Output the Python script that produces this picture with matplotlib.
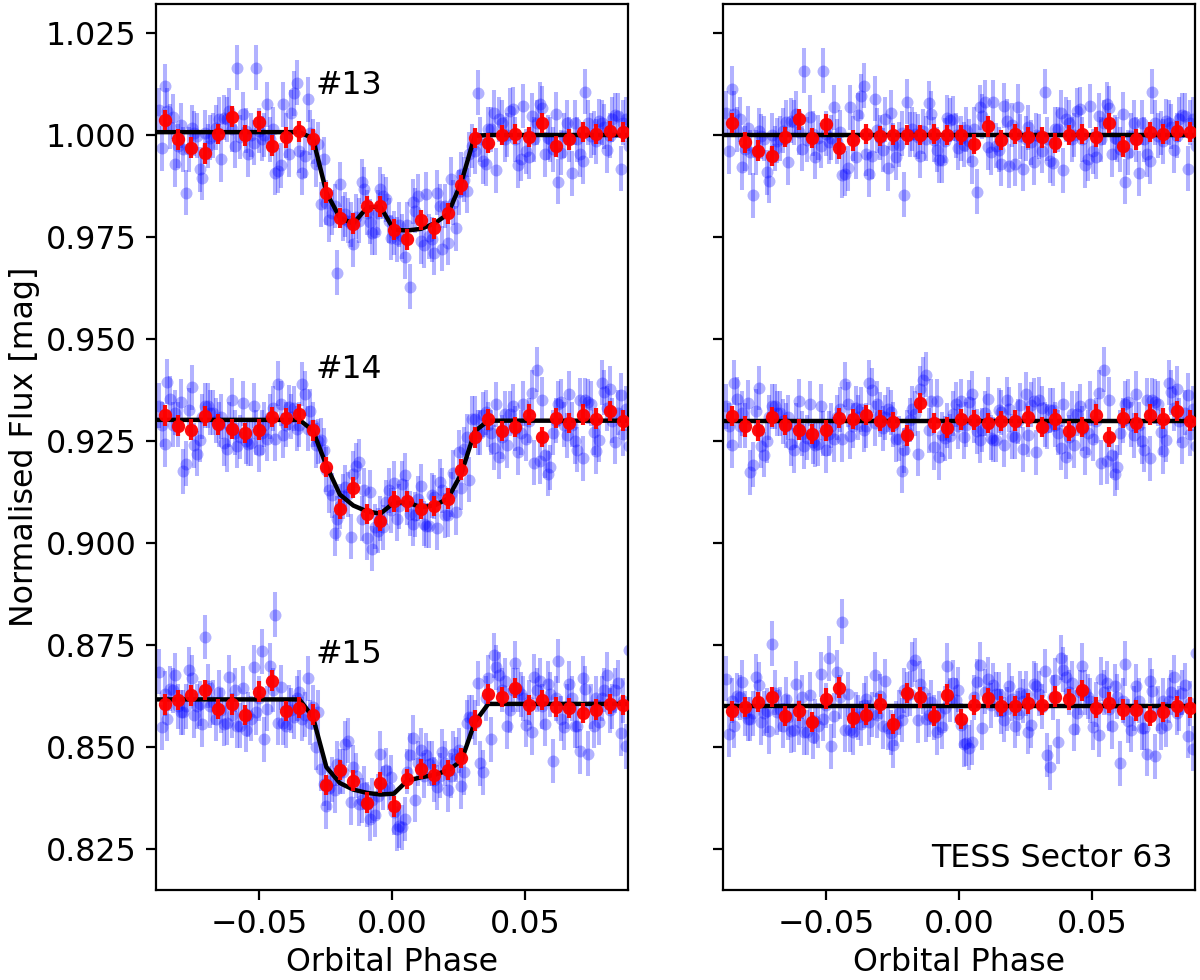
import numpy as np
import matplotlib
matplotlib.use("Agg")
import matplotlib.pyplot as plt

# Binned phases: 35 bins, each holding 5 unbinned points
bin_phase = np.array([-0.0855 + 0.00507 * k for k in range(35)])
raw_phase = np.array([-0.0875 + 0.001014 * k for k in range(175)])

red_13 = [1.0037,.9989,.9969,.9955,1.0002,1.0045,.9999,1.0033,.9974,.9994,1.0009,.9989,.9859,.9797,.9783,.9825,.9825,.9768,
          .9744,.9791,.9771,.9808,.9878,.9992,.9981,1.0000,1.0002,.9995,1.0030,.9972,.9989,1.0007,1.0002,1.0010,1.0007]
red_14 = [.9313,.9288,.9278,.9311,.9291,.9280,.9270,.9278,.9309,.9306,.9316,.9276,.9187,.9083,.9136,.9072,.9055,.9102,
          .9102,.9083,.9091,.9109,.9180,.9259,.9303,.9274,.9285,.9315,.9260,.9306,.9295,.9315,.9305,.9323,.9300]
red_15 = [.8605,.8616,.8627,.8640,.8593,.8605,.8579,.8636,.8663,.8588,.8597,.8580,.8408,.8444,.8418,.8364,.8413,.8355,
          .8422,.8446,.8433,.8444,.8473,.8565,.8630,.8623,.8645,.8603,.8615,.8598,.8596,.8583,.8592,.8606,.8603]

model_13 = [1.0007]*11 + [.9992,.9859,.9797,.9783,.9822,.9825,.9768,.9766,.9770,.9783,.9806,.9884,.9998] + [1.0000]*11
model_14 = [.9302]*11 + [.9276,.9190,.9119,.9092,.9078,.9072,.9099,.9100,.9088,.9092,.9109,.9170,.9274,.9300] + [.9300]*10
model_15 = [.8617]*11 + [.8574,.8451,.8412,.8396,.8388,.8384,.8386,.8418,.8426,.8432,.8443,.8466,.8561,.8606] + [.8606]*10

blue_13 = [1.0061,.9967,1.0120,1.0059,1.0020, 1.0045,.9928,.9973,1.0024,.9965, .9859,.9965,1.0018,1.0004,.9998,
 .9916,.9895,1.0006,.9973,.9993, .9998,1.0018,1.0038,.9940,1.0042, 1.0038,1.0059,1.0014,.9973,1.0165,
 .9995,1.0051,1.0010,.9953,1.0000, .9981,1.0165,1.0010,.9991,1.0000, 1.0075,.9990,1.0014,.9908,.9912,
 .9926,1.0075,.9998,.9953,1.0055, 1.0102,1.0128,.9961,.9908,.9949, 1.0087,1.0006,.9985,.9928,.9977,
 .9830,.9940,.9834,.9792,.9810, .9826,.9663,.9879,.9795,.9806, .9790,.9781,.9732,.9800,.9790,
 .9885,.9867,.9810,.9787,.9761, .9762,.9810,.9867,.9850,.9842, .9790,.9748,.9760,.9744,.9780,
 .9752,.9702,.9780,.9628,.9836, .9814,.9850,.9740,.9730,.9855, .9752,.9744,.9712,.9859,.9826,
 .9721,.9826,.9736,.9891,.9834, .9771,.9860,.9904,.9890,.9863, .9953,.9973,.9960,1.0104,.9989,
 .9936,.9930,1.0014,1.0014,1.0055, .9914,1.0038,1.0030,.9990,1.0000, 1.0059,1.0063,.9989,.9926,.9942,
 1.0071,.9960,.9947,1.0047,.9990, 1.0030,1.0075,1.0065,.9953,.9993, .9989,.9965,1.0051,.9885,.9957,
 .9998,1.0030,.9989,.9906,1.0030, .9990,.9953,.9936,1.0106,1.0030, .9998,1.0005,.9985,1.0034,1.0030,
 1.0020,.9963,.9998,1.0038,1.0048, 1.0047,.9917,1.0030,1.0038,.9973]

blue_14 = [.9337,.9290,.9242,.9395,.9354, .9290,.9320,.9290,.9346,.9176, .9194,.9325,.9382,.9240,.9219,
 .9253,.9310,.9337,.9337,.9320, .9320,.9300,.9290,.9310,.9245, .9230,.9290,.9350,.9270,.9239,
 .9260,.9343,.9250,.9243,.9245, .9337,.9270,.9229,.9270,.9290, .9256,.9310,.9330,.9256,.9391,
 .9342,.9264,.9290,.9333,.9310, .9330,.9280,.9290,.9390,.9366, .9280,.9323,.9290,.9240,.9250,
 .9252,.9227,.9180,.9130,.9117, .9024,.9060,.9090,.9115,.9137, .9120,.9016,.9170,.9190,.9199,
 .9060,.9129,.9013,.9125,.8986, .9040,.9030,.9060,.9039,.9100, .9129,.9080,.9147,.9060,.9090,
 .9145,.9166,.9100,.9072,.9047, .9070,.9109,.9140,.9047,.9043, .9043,.9117,.9113,.9037,.9150,
 .9130,.9068,.9070,.9120,.9172, .9076,.9223,.9136,.9230,.9261, .9155,.9305,.9305,.9270,.9270,
 .9315,.9321,.9290,.9270,.9234, .9340,.9212,.9260,.9317,.9240, .9317,.9335,.9280,.9223,.9270,
 .9342,.9256,.9300,.9368,.9197, .9425,.9200,.9351,.9215,.9170, .9186,.9270,.9300,.9342,.9346,
 .9290,.9264,.9366,.9290,.9250, .9229,.9350,.9208,.9350,.9346, .9342,.9272,.9225,.9253,.9393,
 .9370,.9330,.9378,.9300,.9248, .9320,.9362,.9268,.9329,.9237]

blue_15 = [.8685,.8549,.8631,.8570,.8643, .8639,.8676,.8600,.8586,.8586, .8600,.8690,.8670,.8578,.8600,
 .8606,.8556,.8770,.8650,.8602, .8610,.8569,.8635,.8590,.8557, .8560,.8672,.8578,.8640,.8553,
 .8553,.8645,.8542,.8580,.8570, .8696,.8586,.8620,.8735,.8519, .8594,.8700,.8640,.8824,.8560,
 .8647,.8560,.8553,.8598,.8590, .8574,.8620,.8635,.8569,.8580, .8669,.8560,.8598,.8500,.8586,
 .8447,.8410,.8355,.8400,.8420, .8394,.8459,.8440,.8440,.8508, .8516,.8365,.8451,.8430,.8361,
 .8370,.8400,.8360,.8324,.8370, .8335,.8380,.8484,.8400,.8443, .8400,.8426,.8340,.8300,.8308,
 .8304,.8324,.8440,.8480,.8523, .8371,.8460,.8493,.8430,.8480, .8459,.8460,.8420,.8402,.8430,
 .8489,.8460,.8396,.8430,.8484, .8470,.8492,.8404,.8439,.8560, .8574,.8574,.8560,.8657,.8460,
 .8439,.8620,.8670,.8519,.8725, .8696,.8678,.8640,.8663,.8551, .8590,.8640,.8706,.8640,.8630,
 .8620,.8555,.8610,.8537,.8673, .8640,.8663,.8600,.8557,.8655, .8630,.8466,.8620,.8711,.8570,
 .8549,.8600,.8655,.8620,.8553, .8553,.8490,.8669,.8643,.8484, .8600,.8553,.8620,.8561,.8620,
 .8640,.8677,.8590,.8600,.8639, .8658,.8534,.8614,.8502,.8737]

bases = [1.000, 0.930, 0.860]
labels = ["#13", "#14", "#15"]
label_y = [1.0121, 0.9425, 0.8727]
yticks = [0.825, 0.850, 0.875, 0.900, 0.925, 0.950, 0.975, 1.000, 1.025]
xticks = [-0.05, 0.0, 0.05]
blue_err = 0.0055
red_err = 0.0025

plt.rcParams.update({"font.family": "DejaVu Sans", "font.size": 11.4})
W, H = 1200.0, 980.0
fig = plt.figure(figsize=(6.0, 4.9), dpi=200)
axL = fig.add_axes([156/W, 1-890/H, 472/W, 886/H])
axR = fig.add_axes([723/W, 1-890/H, 472/W, 886/H], sharey=axL)

ext_phase = np.concatenate([[-0.09], bin_phase, [0.09]])

def curves(ax, x_raw, y_raw, x_bin, y_bin, x_m, y_m):
    ax.errorbar(x_raw, y_raw, yerr=blue_err, fmt="o", color="blue", alpha=0.3,
                ms=4.3, mew=0, elinewidth=1.45, zorder=2)
    ax.plot(x_m, y_m, color="black", lw=1.6, zorder=3)
    ax.errorbar(x_bin, y_bin, yerr=red_err, fmt="o", color="red", alpha=0.95,
                ms=4.8, mew=0, elinewidth=1.5, zorder=4)

for blue, red, model, base, lab, ly in zip(
        [blue_13, blue_14, blue_15], [red_13, red_14, red_15],
        [model_13, model_14, model_15], bases, labels, label_y):
    blue, red, model = np.array(blue), np.array(red), np.array(model)
    model_ext = np.concatenate([[model[0]], model, [model[-1]]])
    curves(axL, raw_phase, blue, bin_phase, red, ext_phase, model_ext)
    axL.text(-0.0288, ly, lab, ha="left", va="center", zorder=6)
    # Right panel: the same data with the transit model removed
    curves(axR, raw_phase, blue - np.interp(raw_phase, ext_phase, model_ext) + base,
           bin_phase, red - model + base, ext_phase, np.full(ext_phase.shape, base))

for ax in (axL, axR):
    ax.set_xlim(-0.0887, 0.0887)
    ax.set_xticks(xticks)
    ax.set_xticklabels(["\u22120.05", "0.00", "0.05"])
    ax.set_xlabel("Orbital Phase", labelpad=2.5)
axL.set_ylim(0.8150, 1.0321)
axL.set_yticks(yticks)
axL.set_yticklabels([f"{t:.3f}" for t in yticks])
axL.set_ylabel("Normalised Flux [mag]", labelpad=2)
axR.tick_params(labelleft=False)
axR.text(0.953, 0.036, "TESS Sector 63", transform=axR.transAxes, ha="right", va="center", zorder=6)

fig.savefig("out.png", dpi=200)
